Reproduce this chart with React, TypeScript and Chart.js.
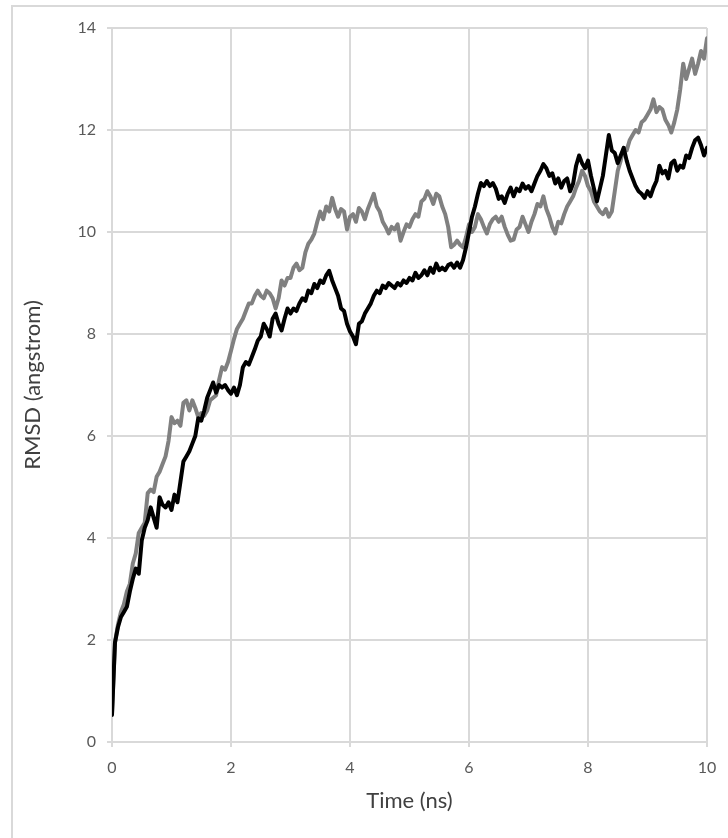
import React, { useEffect, useRef } from "react";
import { Chart, registerables } from "chart.js";

Chart.register(...registerables);

// Sampling grid of the trajectories (ns)
const TIME_STEP_NS = 0.05;
const X_TICK_STEP = 2;
const Y_TICK_STEP = 2;
const X_MIN = 0;
const X_MAX = 10;
const Y_MIN = 0;
const Y_MAX = 14;

const X_TITLE = "Time (ns)";
const Y_TITLE = "RMSD (angstrom)";

// Black trace, RMSD (Å) at t = 0, 0.05, 0.10 ... 10 ns
const rmsdBlack = [
  0.53, 1.95, 2.25, 2.45, 2.55, 2.65, 2.95, 3.2, 3.4, 3.3,
  3.95, 4.2, 4.35, 4.6, 4.4, 4.2, 4.8, 4.65, 4.6, 4.7,
  4.55, 4.85, 4.7, 5.1, 5.5, 5.6, 5.7, 5.85, 6.0, 6.35,
  6.3, 6.5, 6.75, 6.9, 7.05, 6.85, 7.0, 6.95, 7.0, 6.9,
  6.83, 6.95, 6.8, 7.0, 7.35, 7.45, 7.4, 7.55, 7.7, 7.87,
  7.95, 8.2, 8.1, 7.95, 8.3, 8.4, 8.2, 8.07, 8.3, 8.5,
  8.4, 8.5, 8.45, 8.6, 8.7, 8.65, 8.85, 8.8, 8.98, 8.9,
  9.05, 9.0, 9.15, 9.24, 9.05, 8.9, 8.75, 8.5, 8.45, 8.2,
  8.05, 7.95, 7.8, 8.2, 8.25, 8.4, 8.5, 8.6, 8.75, 8.85,
  8.8, 8.95, 8.9, 9.0, 8.95, 8.9, 9.0, 8.95, 9.05, 9.0,
  9.1, 9.05, 9.2, 9.1, 9.15, 9.25, 9.15, 9.3, 9.2, 9.38,
  9.25, 9.3, 9.25, 9.35, 9.38, 9.3, 9.4, 9.3, 9.45, 9.7,
  10.0, 10.3, 10.5, 10.75, 10.96, 10.9, 11.0, 10.9, 10.96, 10.85,
  10.65, 10.7, 10.57, 10.75, 10.87, 10.7, 10.85, 10.8, 10.95, 10.85,
  10.9, 10.8, 10.95, 11.1, 11.2, 11.33, 11.25, 11.1, 11.15, 10.95,
  11.05, 10.87, 11.0, 11.05, 10.8, 10.95, 11.3, 11.5, 11.35, 11.25,
  11.4, 11.1, 10.85, 10.6, 10.85, 11.1, 11.5, 11.9, 11.6, 11.55,
  11.35, 11.5, 11.65, 11.4, 11.2, 11.05, 10.9, 10.8, 10.75, 10.67,
  10.8, 10.7, 10.87, 11.0, 11.3, 11.15, 11.2, 11.05, 11.35, 11.4,
  11.2, 11.3, 11.26, 11.5, 11.45, 11.65, 11.8, 11.85, 11.7, 11.5,
  11.65,
];

// Grey trace, RMSD (Å) at t = 0, 0.05, 0.10 ... 10 ns
const rmsdGrey = [
  0.55, 1.95, 2.3, 2.55, 2.7, 2.95, 3.1, 3.5, 3.7, 4.1,
  4.2, 4.3, 4.88, 4.95, 4.9, 5.2, 5.3, 5.45, 5.6, 5.9,
  6.37, 6.25, 6.3, 6.2, 6.65, 6.7, 6.5, 6.7, 6.55, 6.37,
  6.45, 6.4, 6.5, 6.7, 6.75, 6.8, 7.1, 7.35, 7.3, 7.45,
  7.67, 7.9, 8.1, 8.2, 8.3, 8.45, 8.6, 8.6, 8.75, 8.85,
  8.75, 8.7, 8.85, 8.8, 8.7, 8.5, 8.7, 9.05, 8.95, 9.1,
  9.1, 9.3, 9.38, 9.25, 9.3, 9.6, 9.77, 9.85, 9.97, 10.2,
  10.4, 10.25, 10.5, 10.4, 10.67, 10.45, 10.3, 10.45, 10.4, 10.05,
  10.3, 10.35, 10.2, 10.47, 10.4, 10.25, 10.45, 10.6, 10.75, 10.5,
  10.4, 10.2, 10.1, 9.97, 10.1, 10.05, 10.15, 9.83, 10.0, 10.15,
  10.1, 10.25, 10.35, 10.3, 10.6, 10.65, 10.8, 10.7, 10.55, 10.75,
  10.7, 10.5, 10.35, 10.1, 9.7, 9.75, 9.83, 9.75, 9.7, 9.9,
  10.15, 10.0, 10.1, 10.35, 10.25, 10.1, 9.97, 10.15, 10.25, 10.3,
  10.2, 10.3, 10.1, 9.95, 9.83, 9.85, 10.05, 10.1, 10.3, 10.15,
  10.0, 10.2, 10.35, 10.55, 10.5, 10.7, 10.45, 10.3, 10.1, 9.97,
  10.2, 10.17, 10.35, 10.5, 10.6, 10.7, 10.87, 11.0, 11.2, 11.1,
  10.9, 10.8, 10.6, 10.5, 10.4, 10.35, 10.45, 10.3, 10.4, 10.8,
  11.2, 11.4, 11.65, 11.6, 11.8, 11.9, 12.0, 11.95, 12.15, 12.2,
  12.3, 12.4, 12.6, 12.35, 12.45, 12.4, 12.2, 12.1, 11.95, 12.15,
  12.4, 12.8, 13.3, 13.0, 13.2, 13.4, 13.1, 13.3, 13.55, 13.4,
  13.8,
];

const toPoints = (vals: number[]) =>
  vals.map((y, i) => ({ x: Math.round(i * TIME_STEP_NS * 100) / 100, y }));

const FONT = "Lato, 'Open Sans', 'Liberation Sans', sans-serif";
const GRID = "#d9d9d9";
const TICK_COLOR = "#595959";
const TITLE_COLOR = "#404040";

export default function App() {
  const ref = useRef<HTMLCanvasElement | null>(null);

  useEffect(() => {
    if (!ref.current) return;
    const chart = new Chart(ref.current, {
      type: "line",
      data: {
        datasets: [
          {
            label: "black",
            data: toPoints(rmsdBlack),
            borderColor: "#000000",
            backgroundColor: "#000000",
            borderWidth: 4,
            pointRadius: 0,
            tension: 0,
            borderJoinStyle: "round",
            borderCapStyle: "round",
            order: 0,
          },
          {
            label: "grey",
            data: toPoints(rmsdGrey),
            borderColor: "#808080",
            backgroundColor: "#808080",
            borderWidth: 4,
            pointRadius: 0,
            tension: 0,
            borderJoinStyle: "round",
            borderCapStyle: "round",
            order: 1,
          },
        ],
      },
      options: {
        responsive: false,
        animation: false,
        devicePixelRatio: 1,
        layout: { padding: { left: 0, right: 21, top: 28, bottom: 0 } },
        plugins: {
          legend: { display: false },
          tooltip: { enabled: false },
        },
        scales: {
          x: {
            type: "linear",
            min: X_MIN,
            max: X_MAX,
            ticks: {
              stepSize: X_TICK_STEP,
              color: TICK_COLOR,
              font: { family: FONT, size: 16 },
              padding: 11,
              maxRotation: 0,
            },
            grid: { color: GRID, lineWidth: 2, tickLength: 5, drawTicks: true },
            border: { color: GRID, width: 2 },
            title: {
              display: true,
              text: X_TITLE,
              color: TITLE_COLOR,
              font: { family: FONT, size: 22 },
              padding: { top: 0, bottom: 24 },
            },
            afterFit: (s: any) => {
              s.height = 96;
            },
          },
          y: {
            type: "linear",
            min: Y_MIN,
            max: Y_MAX,
            ticks: {
              stepSize: Y_TICK_STEP,
              color: TICK_COLOR,
              font: { family: FONT, size: 16 },
              padding: 11,
            },
            grid: { color: GRID, lineWidth: 2, tickLength: 5, drawTicks: true },
            border: { color: GRID, width: 2 },
            title: {
              display: true,
              text: Y_TITLE,
              color: TITLE_COLOR,
              font: { family: FONT, size: 22 },
              padding: { top: 20, bottom: 0 },
            },
            afterFit: (s: any) => {
              s.width = 112;
            },
          },
        },
      },
    });
    return () => chart.destroy();
  }, []);

  return (
    <div
      style={{
        position: "fixed",
        left: 0,
        top: 0,
        width: 728,
        height: 838,
        overflow: "hidden",
        background: "#ffffff",
      }}
    >
      <div
        style={{
          position: "absolute",
          left: 11,
          top: 5,
          width: 800,
          height: 900,
          border: "2px solid #d9d9d9",
          boxSizing: "border-box",
        }}
      />
      <canvas
        ref={ref}
        width={728}
        height={838}
        style={{ position: "absolute", left: 0, top: 0, width: 728, height: 838 }}
      />
    </div>
  );
}
